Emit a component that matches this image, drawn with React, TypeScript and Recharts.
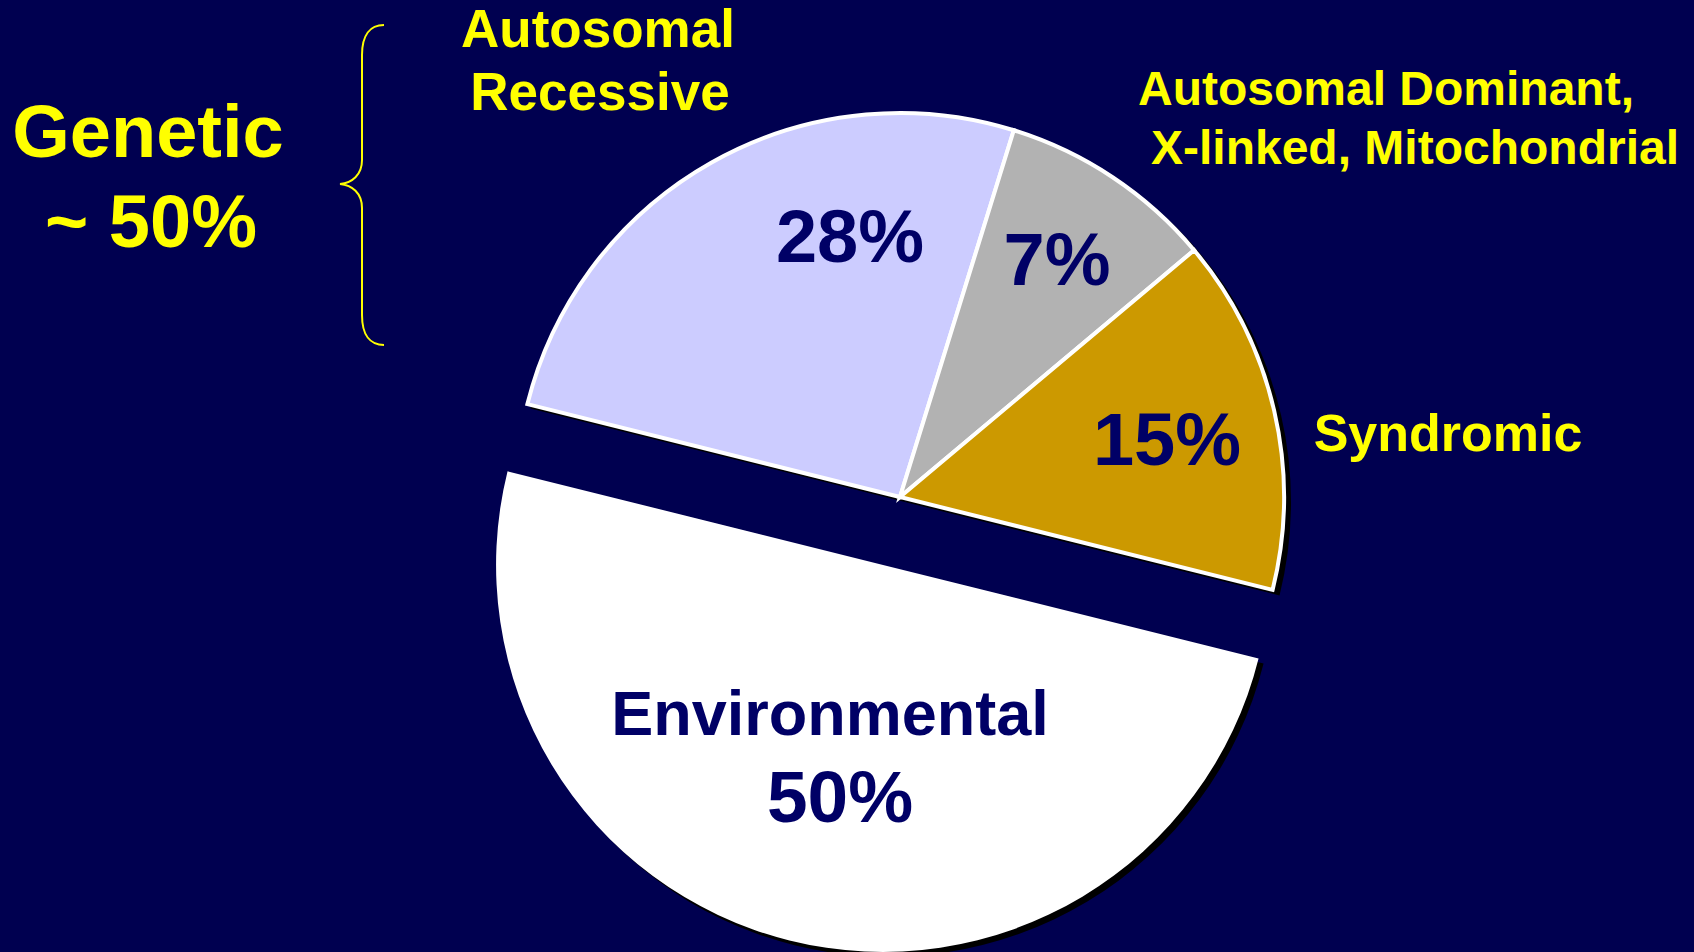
import React from 'react';
import { PieChart, Pie, Cell } from 'recharts';

const categories = ['Autosomal Recessive', 'Autosomal Dominant, X-linked, Mitochondrial', 'Syndromic', 'Environmental'];
const sliceValues = [25.9, 9.1, 15, 50];
const percentLabels = ['28%', '7%', '15%', '50%'];
const sliceColors = ['#CCCCFF', '#B2B2B2', '#CC9900', '#FFFFFF'];
const explodedIndex = 3;

const data = categories.map((name, i) => ({ name, value: sliceValues[i] }));

const W = 1694;
const H = 952;
const BG = '#000050';
const NAVY = '#000066';
const YELLOW = '#FFFF00';
const FONT = 'Arial, "Liberation Sans", Helvetica, sans-serif';

const START = 166;
const END = START - 360;
const CX = 900;
const CY = 497;
const R = 384;
const EXPLODE = 70;
const SHADOW = 5;

// mid angle of exploded slice, from the data
const total = sliceValues.reduce((a, b) => a + b, 0);
const before = sliceValues.slice(0, explodedIndex).reduce((a, b) => a + b, 0);
const midDeg = START - (360 * (before + sliceValues[explodedIndex] / 2)) / total;
const ex = CX + EXPLODE * Math.cos((midDeg * Math.PI) / 180);
const ey = CY - EXPLODE * Math.sin((midDeg * Math.PI) / 180);

export default function App() {
  return (
    <div style={{ position: 'fixed', left: 0, top: 0, width: W, height: H, background: BG, overflow: 'hidden' }}>
      <div style={{ position: 'absolute', left: 0, top: 0 }}>
        <PieChart width={W} height={H} margin={{ top: 0, right: 0, bottom: 0, left: 0 }}>
          {/* shadows */}
          <Pie data={data} dataKey="value" cx={CX + SHADOW} cy={CY + SHADOW} outerRadius={R + 2} startAngle={START} endAngle={END} isAnimationActive={false} stroke="none">
            {data.map((d, i) => (
              <Cell key={d.name} fill={i === explodedIndex ? 'transparent' : '#000000'} stroke="none" />
            ))}
          </Pie>
          <Pie data={data} dataKey="value" cx={ex + SHADOW} cy={ey + SHADOW} outerRadius={R + 3} startAngle={START} endAngle={END} isAnimationActive={false} stroke="none">
            {data.map((d, i) => (
              <Cell key={d.name} fill={i === explodedIndex ? '#000000' : 'transparent'} stroke="none" />
            ))}
          </Pie>
          {/* genetic slices */}
          <Pie data={data} dataKey="value" cx={CX} cy={CY} outerRadius={R} startAngle={START} endAngle={END} isAnimationActive={false}>
            {data.map((d, i) => (
              <Cell
                key={d.name}
                fill={i === explodedIndex ? 'transparent' : sliceColors[i]}
                stroke={i === explodedIndex ? 'none' : '#FFFFFF'}
                strokeWidth={4}
              />
            ))}
          </Pie>
          {/* exploded environmental slice */}
          <Pie data={data} dataKey="value" cx={ex} cy={ey} outerRadius={R + 3} startAngle={START} endAngle={END} isAnimationActive={false}>
            {data.map((d, i) => (
              <Cell key={d.name} fill={i === explodedIndex ? sliceColors[i] : 'transparent'} stroke="none" />
            ))}
          </Pie>
        </PieChart>
      </div>
      <svg width={W} height={H} style={{ position: 'absolute', left: 0, top: 0, pointerEvents: 'none' }}>
        <g fontFamily={FONT} fontWeight="bold" textAnchor="middle">
          <text x={148} y={157} fontSize={74} fill={YELLOW}>Genetic</text>
          <text x={151} y={247} fontSize={74} fill={YELLOW}>~ 50%</text>
          <text x={598} y={47} fontSize={53} fill={YELLOW}>Autosomal</text>
          <text x={600} y={110} fontSize={53} fill={YELLOW}>Recessive</text>
          <text x={1386} y={105} fontSize={48} fill={YELLOW}>Autosomal Dominant,</text>
          <text x={1415} y={164} fontSize={48} fill={YELLOW}>X-linked, Mitochondrial</text>
          <text x={1448} y={451} fontSize={52} fill={YELLOW}>{categories[2]}</text>
          <text x={850} y={262} fontSize={74} fill={NAVY}>{percentLabels[0]}</text>
          <text x={1057} y={285} fontSize={74} fill={NAVY}>{percentLabels[1]}</text>
          <text x={1167} y={465} fontSize={74} fill={NAVY}>{percentLabels[2]}</text>
          <text x={830} y={735} fontSize={63} fill={NAVY}>{categories[3]}</text>
          <text x={840} y={822} fontSize={73} fill={NAVY}>{percentLabels[3]}</text>
        </g>
        <path
          d="M 384 25 C 370 25, 362 35, 362 55 L 362 160 C 362 175, 352 183, 340 184 C 352 185, 362 193, 362 208 L 362 315 C 362 335, 370 345, 384 345"
          fill="none"
          stroke={YELLOW}
          strokeWidth={2}
        />
      </svg>
    </div>
  );
}
